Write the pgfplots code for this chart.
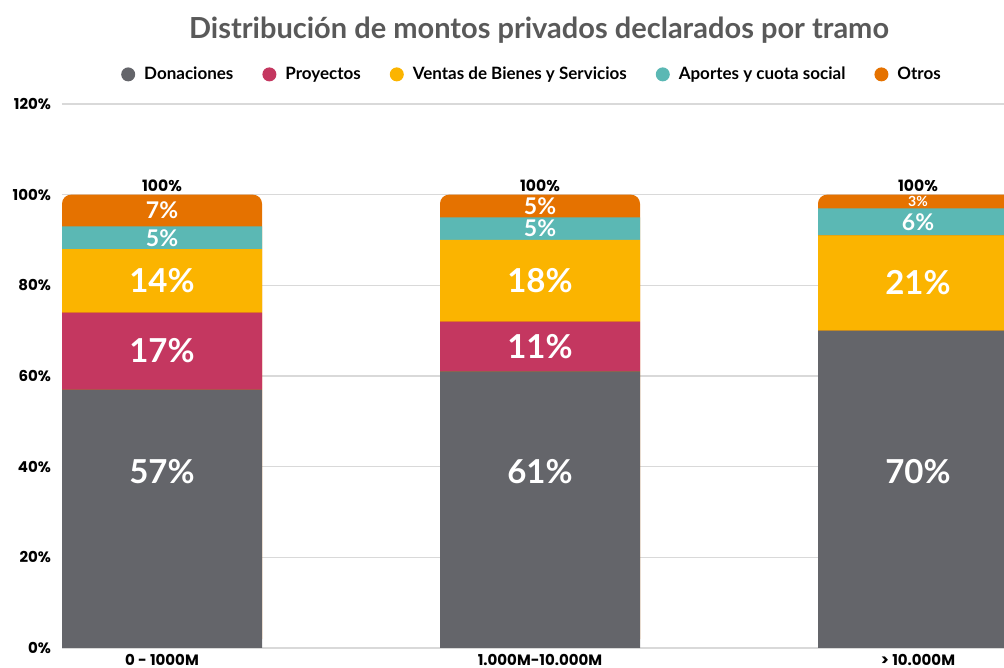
\documentclass[border=0pt]{standalone}
\usepackage{pgfplots}
\pgfplotsset{compat=1.18}
\usepackage{fontspec}
\setmainfont{Lato}
\newfontfamily\pop{Poppins}
\definecolor{cdon}{RGB}{100,101,106}
\definecolor{cpro}{RGB}{196,55,96}
\definecolor{cven}{RGB}{251,180,0}
\definecolor{capo}{RGB}{91,184,180}
\definecolor{cotr}{RGB}{229,114,0}
\definecolor{cgrid}{RGB}{217,217,217}
\definecolor{ctitle}{RGB}{89,89,89}
\pgfkeys{/pgf/number format/assume math mode=true}
\pgfplotsset{
  common/.style={
    width=471pt, height=272pt, scale only axis,
    xmin=-0.2646, xmax=2.2275, ymin=0, ymax=120,
    bar width=100pt,
    /pgf/number format/assume math mode=true,
  },
  circ/.style={legend image code/.code={\fill[#1] (2.5pt,0.3pt) circle (3.5pt); \path (8.5pt,0pt);}},
}
\begin{document}
\begin{tikzpicture}
\begin{axis}[common,
  axis line style={draw=none},
  major tick length=0pt,
  ymajorgrids, grid style={cgrid, line width=0.8pt},
  ytick={0,20,...,120},
  yticklabel={\pgfmathprintnumber{\tick}\%},
  yticklabel style={font=\pop\bfseries\fontsize{7.5}{8}\selectfont, xshift=-2pt},
  xtick={0,1,2},
  xticklabels={0 - 1000M, 1.000M-10.000M, > 10.000M},
  xticklabel style={font=\pop\bfseries\fontsize{7.5}{8}\selectfont, yshift=0.5pt},
  title={Distribución de montos privados declarados por tramo},
  title style={at={(0.5,1)}, anchor=center, yshift=31pt, xshift=3pt, font=\bfseries\fontsize{14.5}{16}\selectfont, text=ctitle},
]
\addplot[ybar, fill=cotr, draw=none, rounded corners=4.5pt,
  nodes near coords={\pgfmathprintnumber{\pgfplotspointmeta}\%},
  nodes near coords style={font=\pop\bfseries\fontsize{7.8}{8}\selectfont, text=black, anchor=south, inner sep=1.2pt}]
  coordinates {(0,100)(1,100)(2,100)};
\end{axis}
\begin{axis}[common, ybar stacked, hide axis,
  legend style={at={(0.5,1)}, anchor=center, yshift=14.5pt, draw=none, fill=none,
    legend columns=-1, font=\bfseries\fontsize{8.5}{10}\selectfont,
    /tikz/every even column/.append style={column sep=12.5pt}},
  visualization depends on=rawy \as \rawy,
  nodes near coords={\pgfmathtruncatemacro\sz{\rawy<0.5?0:(\rawy<4?1:(\rawy<10?2:3))}\ifcase\sz\or\fontsize{7}{8}\selectfont\pgfmathprintnumber{\rawy}\%\or\fontsize{11.5}{12}\selectfont\pgfmathprintnumber{\rawy}\%\else\fontsize{16.5}{18}\selectfont\pgfmathprintnumber{\rawy}\%\fi},
  every node near coord/.append style={anchor=center, text=white, font=\bfseries, inner sep=0pt},
]
\addplot[fill=cdon, draw=none, circ=cdon,
  every node near coord/.append style={yshift={(39-\rawy/2)*2.266667pt}}]
  coordinates {(0,57)(1,61)(2,70)};
\addlegendentry{Donaciones}
\addplot[fill=cpro, draw=none, circ=cpro] coordinates {(0,17)(1,11)(2,0)};
\addlegendentry{Proyectos}
\addplot[fill=cven, draw=none, circ=cven] coordinates {(0,14)(1,18)(2,21)};
\addlegendentry{Ventas de Bienes y Servicios}
\addplot[fill=capo, draw=none, circ=capo] coordinates {(0,5)(1,5)(2,6)};
\addlegendentry{Aportes y cuota social}
\addplot[fill=none, draw=none, circ=cotr] coordinates {(0,7)(1,5)(2,3)};
\addlegendentry{Otros}
\end{axis}
\pgfresetboundingbox
\path ([xshift=-31pt, yshift=-10pt]current axis.south west) rectangle ([yshift=52pt]current axis.north east);
\end{tikzpicture}
\end{document}
